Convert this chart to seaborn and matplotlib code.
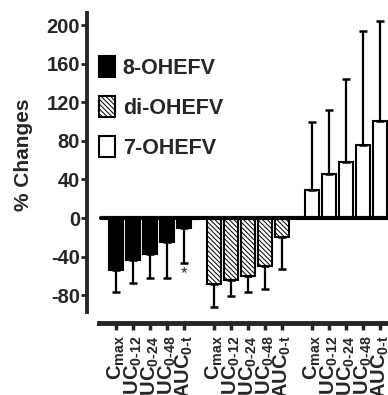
import matplotlib
matplotlib.use("Agg")
import matplotlib.pyplot as plt
import seaborn as sns
import pandas as pd
from matplotlib.patches import Patch

# data (% change vs. control)
params = ["C$_{\\rm max}$", "AUC$_{\\rm 0\\text{-}12}$", "AUC$_{\\rm 0\\text{-}24}$",
          "AUC$_{\\rm 0\\text{-}48}$", "AUC$_{\\rm 0\\text{-}t}$"]
compounds = ["8-OHEFV", "di-OHEFV", "7-OHEFV"]
ohefv8_mean = [-54, -43.5, -37, -25, -10]
ohefv8_err = [23, 24, 25, 37, 37]
diohefv_mean = [-68, -64, -60, -49.5, -20]
diohefv_err = [24, 17, 17, 24, 33]
ohefv7_mean = [29, 45.5, 58, 75.5, 100.5]
ohefv7_err = [70, 66, 86, 118, 104]

sns.set_style("white")
plt.rcParams['font.family'] = ['Liberation Sans', 'DejaVu Sans']
plt.rcParams['font.weight'] = 'bold'
plt.rcParams['axes.unicode_minus'] = False
plt.rcParams['mathtext.fontset'] = 'custom'
plt.rcParams['mathtext.rm'] = 'Liberation Sans'
plt.rcParams['mathtext.bf'] = 'Liberation Sans:bold'
plt.rcParams['hatch.linewidth'] = 0.7

HATCH = "\\" * 7

group_gap = 5.765
rows = []
for g, (name, means, errs) in enumerate(zip(compounds,
                                            [ohefv8_mean, diohefv_mean, ohefv7_mean],
                                            [ohefv8_err, diohefv_err, ohefv7_err])):
    for i, (p, m, e) in enumerate(zip(params, means, errs)):
        rows.append({"pos": g * group_gap + i, "param": p, "compound": name,
                     "value": m, "err": e})
df = pd.DataFrame(rows)

fig = plt.figure(figsize=(3.88, 3.95), dpi=100)
ax = fig.add_axes([0.224, 0.21, 0.776, 0.757])

palette = {"8-OHEFV": "black", "di-OHEFV": "white", "7-OHEFV": "white"}
sns.barplot(data=df, x="pos", y="value", hue="compound", native_scale=True,
            dodge=False, palette=palette, edgecolor="black", linewidth=1.5,
            width=0.88, errorbar=None, legend=False, ax=ax)
for bar in ax.containers[1]:
    bar.set_hatch(HATCH)

# one-sided error bars pointing away from zero
lower = [e if v < 0 else 0 for v, e in zip(df["value"], df["err"])]
upper = [e if v >= 0 else 0 for v, e in zip(df["value"], df["err"])]
ax.errorbar(df["pos"], df["value"], yerr=[lower, upper], fmt="none",
            ecolor="black", elinewidth=1.6, capsize=3, capthick=1.8, zorder=3)

# significance mark under 8-OHEFV AUC0-t
last = df[(df["compound"] == "8-OHEFV")].iloc[-1]
ax.text(last["pos"], last["value"] - last["err"] - 3, "*", ha="center", va="top",
        fontsize=12, fontweight="normal")

ax.axhline(0, xmin=0.047, xmax=1, color="black", linewidth=3, zorder=4)

ax.set_xlim(-1.71, 16.0)
ax.set_ylim(-97.4, 212.4)
ax.set_yticks([200, 160, 120, 80, 40, 0, -40, -80])
ax.set_xticks(df["pos"])
ax.set_xticklabels(df["param"])
ax.tick_params(axis="y", labelsize=14.5, length=4, width=2, left=True, pad=1)
ax.tick_params(axis="x", labelsize=14.5, length=5, width=2.5, bottom=True, pad=4,
               labelrotation=90)
for lab in ax.get_yticklabels() + ax.get_xticklabels():
    lab.set_fontweight("bold")

ax.set_xlabel("")
ax.set_ylabel("% Changes", fontsize=15, fontweight="bold")
ax.yaxis.set_label_coords(-0.18, 0.525)

sns.despine(ax=ax, top=True, right=True)
ax.spines["left"].set_linewidth(2.8)
ax.spines["bottom"].set_linewidth(3.5)
ax.spines["bottom"].set_position(("outward", 8))
ax.spines["bottom"].set_bounds(-1.0, 16.0)

handles = [Patch(facecolor="black", edgecolor="black", linewidth=1.5),
           Patch(facecolor="white", edgecolor="black", linewidth=1.5, hatch=HATCH),
           Patch(facecolor="white", edgecolor="black", linewidth=1.5)]
leg = ax.legend(handles, compounds, loc="upper left", bbox_to_anchor=(0.04, 0.855),
                frameon=False, fontsize=15.5, handlelength=0.75, handleheight=1.1,
                handletextpad=0.35, labelspacing=0.8, borderpad=0, borderaxespad=0)
for t in leg.get_texts():
    t.set_fontweight("bold")

fig.savefig("out.png", dpi=100)
